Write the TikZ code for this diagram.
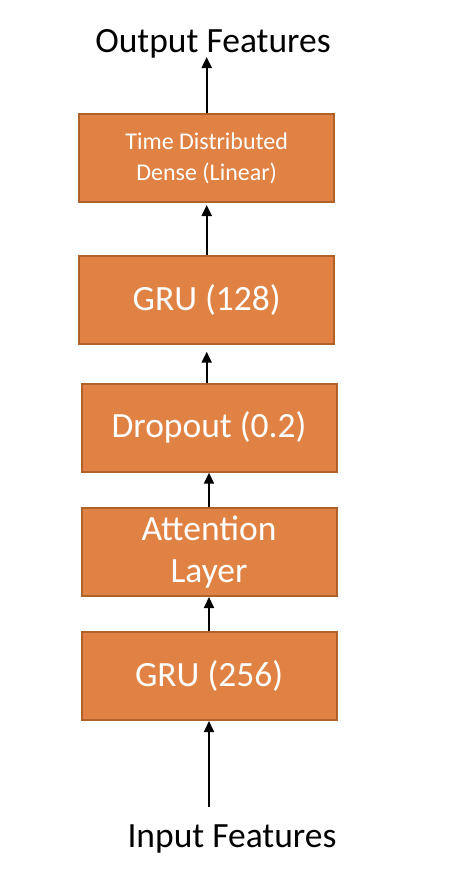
\documentclass[tikz,border=0pt]{standalone}
\usepackage{fontspec}
\setmainfont{Carlito}
\usetikzlibrary{arrows.meta}
\definecolor{boxfill}{HTML}{E08244}
\definecolor{boxdraw}{HTML}{B0622B}
\tikzset{
  layerbox/.style={rectangle, draw=boxdraw, fill=boxfill, line width=2pt,
    minimum width=255pt, minimum height=88pt, inner sep=0pt, text=white,
    align=center, font=\fontsize{35.5}{42}\selectfont},
  smallbox/.style={layerbox, font=\fontsize{24}{31}\selectfont},
  label/.style={inner sep=0pt, anchor=base, font=\fontsize{35.5}{42}\selectfont},
  arr/.style={line width=2pt, -{Triangle[width=10pt,length=11pt]}}
}
\begin{document}
\begin{tikzpicture}[x=1pt,y=-1pt]
\useasboundingbox (0,0) rectangle (462,886);
\fill[white] (0,0) rectangle (462,886);
\node[smallbox] (tdd) at (206.7,158) {Time Distributed\\Dense (Linear)};
\node[layerbox] (gru128) at (206.7,300) {GRU (128)};
\node[layerbox] (drop) at (209,427.7) {Dropout (0.2)};
\node[layerbox] (att) at (209,552) {Attention\\Layer};
\node[layerbox] (gru256) at (209,676) {GRU (256)};
\node[label] (out) at (213,52) {Output Features};
\node[label] (in) at (232,847) {Input Features};
\coordinate (outtip) at (206.7,57);
\coordinate (instart) at (209,807);
\draw[arr] (tdd.north) -- (outtip);
\draw[arr] (gru128.north) -- ([yshift=-2pt]tdd.south);
\draw[arr] (gru128.south |- drop.north) -- ([yshift=-6.7pt]gru128.south);
\draw[arr] (att.north) -- (drop.south);
\draw[arr] (gru256.north) -- (att.south);
\draw[arr] (instart) -- (gru256.south);
\end{tikzpicture}
\end{document}
